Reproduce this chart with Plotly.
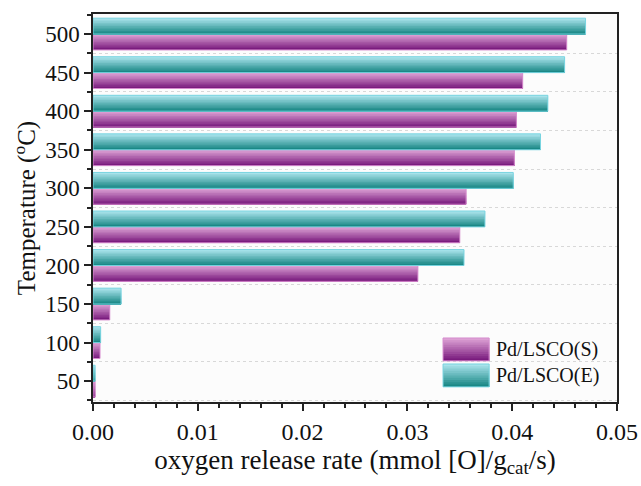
import plotly.graph_objects as go

temps = [50, 100, 150, 200, 250, 300, 350, 400, 450, 500]
rate_S = [0.0002, 0.00067, 0.0016, 0.0310, 0.0350, 0.0356, 0.0402, 0.0404, 0.0410, 0.0452]
rate_E = [0.0002, 0.00073, 0.00268, 0.0354, 0.0374, 0.0401, 0.0427, 0.0434, 0.0450, 0.0470]
series_names = ["Pd/LSCO(S)", "Pd/LSCO(E)"]

BAR_W = 20.6
N = 10

def lerp(c1, c2, t):
    return "rgb(%d,%d,%d)" % tuple(round(a + (b - a) * t) for a, b in zip(c1, c2))

S_top, S_bot = (220, 160, 212), (122, 28, 126)
E_top, E_bot = (168, 226, 234), (26, 136, 134)
S_line, E_line = "rgb(214,140,206)", "rgb(120,212,224)"

FONT = "Liberation Serif"
fig = go.Figure()

def add_series(vals, base_off, ctop, cbot, line):
    sw = BAR_W / N
    for i in range(N):
        w = BAR_W - i * sw
        fig.add_trace(go.Bar(
            y=temps, x=vals, orientation="h",
            width=w, offset=base_off,
            marker=dict(color=lerp(ctop, cbot, i / (N - 1)), line=dict(width=0)),
            showlegend=False, hoverinfo="skip"))
    fig.add_trace(go.Bar(
        y=temps, x=vals, orientation="h", width=BAR_W, offset=base_off,
        marker=dict(color="rgba(0,0,0,0)", line=dict(width=1, color=line)),
        showlegend=False))

add_series(rate_S, -BAR_W, S_top, S_bot, S_line)
add_series(rate_E, 0, E_top, E_bot, E_line)

# manual legend with gradient swatches
shapes = []
annots = []
leg = [(series_names[0], 0.165, 0.106, S_top, S_bot, S_line),
       (series_names[1], 0.098, 0.039, E_top, E_bot, E_line)]
for name, y1, y0, ct, cb, ln in leg:
    h = (y1 - y0) / N
    for i in range(N):
        shapes.append(dict(type="rect", xref="paper", yref="paper",
                           x0=0.668, x1=0.756, y0=y0, y1=y1 - i * h,
                           fillcolor=lerp(ct, cb, i / (N - 1)), line=dict(width=0), layer="above"))
    shapes.append(dict(type="rect", xref="paper", yref="paper",
                       x0=0.668, x1=0.756, y0=y0, y1=y1,
                       fillcolor="rgba(0,0,0,0)", line=dict(width=1, color=ln), layer="above"))
    annots.append(dict(text=name, xref="paper", yref="paper", x=0.766, y=(y0 + y1) / 2,
                       xanchor="left", yanchor="middle", showarrow=False,
                       font=dict(family=FONT, size=20, color="#111")))

fig.update_layout(
    width=641, height=486,
    margin=dict(l=93, r=24, t=14, b=84),
    barmode="overlay",
    plot_bgcolor="#fcfcfc", paper_bgcolor="white",
    font=dict(family=FONT, color="#111"),
    showlegend=False,
    shapes=shapes, annotations=annots,
)
fig.update_xaxes(
    range=[0, 0.05], dtick=0.01, tickformat=".2f", automargin=False,
    showline=True, linecolor="#222", linewidth=1.5, mirror=True,
    ticks="outside", ticklen=7, tickwidth=1.5, tickcolor="#222",
    minor=dict(dtick=0.002, ticks="outside", ticklen=4, tickcolor="#222", showgrid=False),
    showgrid=False, zeroline=False,
    tickfont=dict(size=24, family=FONT),
    title=dict(text="oxygen release rate (mmol [O]/g<sub>cat</sub>/s)",
               font=dict(size=27, family=FONT), standoff=6),
)
fig.update_yaxes(
    range=[23, 526], tickvals=temps, automargin=False,
    showline=True, linecolor="#222", linewidth=1.5, mirror=True,
    ticks="outside", ticklen=7, tickwidth=1.5, tickcolor="#222",
    minor=dict(tick0=25, dtick=50, ticks="outside", ticklen=4, tickcolor="#222",
               showgrid=True, gridcolor="#d8d8d8", griddash="dot", gridwidth=1),
    showgrid=False, zeroline=False,
    tickfont=dict(size=23, family=FONT),
    title=dict(text="Temperature (<sup>o</sup>C)",
               font=dict(size=25, family=FONT), standoff=2),
)

fig.write_html(
    "out.html",
    config={"displayModeBar": False},
    post_script="document.body.style.margin='0';document.body.style.overflow='hidden';",
)
